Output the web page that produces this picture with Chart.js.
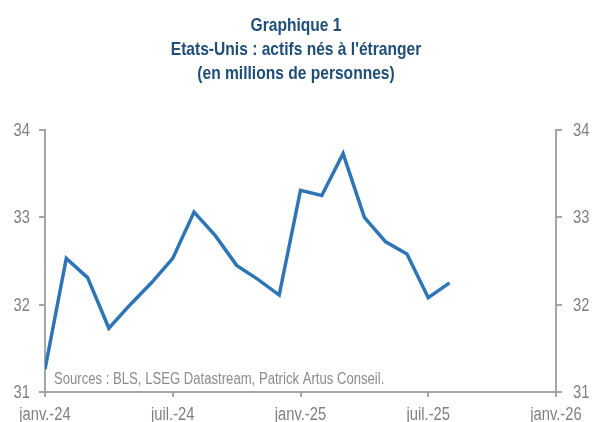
<!DOCTYPE html>
<html lang="fr">
<head>
    <meta charset="UTF-8">
    <title>Graphique 1</title>
    <script src="https://cdnjs.cloudflare.com/ajax/libs/Chart.js/4.4.0/chart.umd.min.js"></script>
    <style>
        html, body { margin: 0; padding: 0; background: #fff; }
        #wrap { position: relative; width: 592px; height: 422px; }
    </style>
</head>
<body>
    <div id="wrap"><canvas id="chart"></canvas></div>
    <script>
        // mois de janv.-24 à janv.-26
        const monthLabels = ['janv.-24', 'févr.-24', 'mars-24', 'avr.-24', 'mai-24', 'juin-24',
            'juil.-24', 'août-24', 'sept.-24', 'oct.-24', 'nov.-24', 'déc.-24',
            'janv.-25', 'févr.-25', 'mars-25', 'avr.-25', 'mai-25', 'juin-25',
            'juil.-25', 'août-25', 'sept.-25', 'oct.-25', 'nov.-25', 'déc.-25', 'janv.-26'];
        // actifs nés à l'étranger, millions
        const workers = [31.26, 32.53, 32.31, 31.73, 32.0, 32.25, 32.53, 33.06, 32.79, 32.45,
            32.29, 32.11, 33.31, 33.25, 33.73, 33.0, 32.72, 32.58, 32.08, 32.25];
        const yTicks = [31, 32, 33, 34];
        const xTicks = [0, 6, 12, 18, 24];
        const titleLines = ['Graphique 1', "Etats-Unis : actifs nés à l'étranger", '(en millions de personnes)'];
        const sourceText = 'Sources : BLS, LSEG Datastream, Patrick Artus Conseil.';

        const family = "'Liberation Sans', Arial, sans-serif";
        const grey = '#a6a6a6';
        const labelGrey = '#808080';
        const squeeze = 0.82; // pas de police étroite installée

        function narrowText(ctx, text, x, y, font, color, align) {
            ctx.save();
            ctx.font = font;
            ctx.fillStyle = color;
            ctx.textAlign = align;
            ctx.textBaseline = 'alphabetic';
            ctx.translate(x, y);
            ctx.scale(squeeze, 1);
            ctx.fillText(text, 0, 0);
            ctx.restore();
        }

        const textPlugin = {
            id: 'narrowText',
            afterDraw(chart) {
                const ctx = chart.ctx;
                const area = chart.chartArea;
                const mid = chart.width / 2;
                titleLines.forEach((t, i) => {
                    narrowText(ctx, t, mid, 31 + i * 24, 'bold 19px ' + family, '#1f4e79', 'center');
                });
                const tickFont = '18px ' + family;
                const y = chart.scales.y, y2 = chart.scales.y2, x = chart.scales.x;
                y.ticks.forEach(t => {
                    narrowText(ctx, String(t.value), y.right - 15, y.getPixelForValue(t.value) + 6, tickFont, labelGrey, 'right');
                });
                y2.ticks.forEach(t => {
                    narrowText(ctx, String(t.value), y2.left + 17, y2.getPixelForValue(t.value) + 6, tickFont, labelGrey, 'left');
                });
                x.ticks.forEach(t => {
                    narrowText(ctx, monthLabels[t.value], x.getPixelForValue(t.value), x.top + 28, tickFont, labelGrey, 'center');
                });
                narrowText(ctx, sourceText, area.left + 9, area.bottom - 8, '16px ' + family, '#8c8c8c', 'left');
            }
        };

        const yAxis = (pos, width) => ({
            type: 'linear',
            position: pos,
            min: 31,
            max: 34,
            afterBuildTicks: s => { s.ticks = yTicks.map(v => ({ value: v })); },
            afterFit: s => { s.width = width; },
            border: { color: grey, width: 2 },
            grid: { display: true, drawOnChartArea: false, color: grey, lineWidth: 2, tickLength: 6 },
            ticks: { display: false }
        });

        new Chart(document.getElementById('chart'), {
            type: 'line',
            data: {
                datasets: [{
                    data: workers.map((v, i) => ({ x: i, y: v })),
                    borderColor: '#2e75b6',
                    borderWidth: 3.5,
                    pointRadius: 0,
                    tension: 0,
                    fill: false
                }]
            },
            options: {
                responsive: true,
                maintainAspectRatio: false,
                animation: false,
                layout: { padding: { top: 130, left: 0, right: 0, bottom: 0 } },
                plugins: {
                    legend: { display: false },
                    tooltip: { enabled: false },
                    title: { display: false }
                },
                scales: {
                    x: {
                        type: 'linear',
                        min: 0,
                        max: 24,
                        afterBuildTicks: s => { s.ticks = xTicks.map(v => ({ value: v })); },
                        afterFit: s => { s.height = 30; },
                        border: { color: grey, width: 2 },
                        grid: { display: true, drawOnChartArea: false, color: grey, lineWidth: 2, tickLength: 5 },
                        ticks: { display: false }
                    },
                    y: yAxis('left', 45),
                    y2: yAxis('right', 36)
                }
            },
            plugins: [textPlugin]
        });
    </script>
</body>
</html>
